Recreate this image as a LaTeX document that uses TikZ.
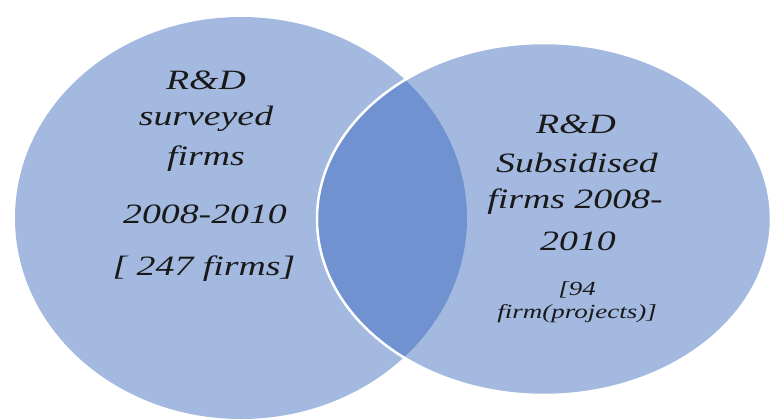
\documentclass[tikz,border=0pt]{standalone}
\usepackage{fontspec}
\newfontfamily\labfont{Liberation Serif}[FakeStretch=1.35]
\definecolor{lightblue}{RGB}{163,185,224}
\definecolor{darkblue}{RGB}{112,146,208}
\definecolor{textcol}{RGB}{25,25,25}
\begin{document}
\begin{tikzpicture}[x=1pt,y=-1pt,
  lab/.style={font=\labfont\itshape\fontsize{28}{34}\selectfont, text=textcol, anchor=base, inner sep=0pt},
  labsmall/.style={font=\labfont\itshape\fontsize{20}{24}\selectfont, text=textcol, anchor=base, inner sep=0pt}]
\useasboundingbox (0,0) rectangle (771,420);
\fill[white] (0,0) rectangle (771,420);
% left set
\fill[lightblue] (241,218) ellipse [x radius=226, y radius=201];
% right set
\fill[lightblue] (544,219) ellipse [x radius=227, y radius=176];
% intersection
\begin{scope}
  \clip (241,218) ellipse [x radius=226, y radius=201];
  \fill[darkblue] (544,219) ellipse [x radius=227, y radius=176];
\end{scope}
\draw[white, line width=2.5pt] (544,219) ellipse [x radius=227, y radius=176];
% left labels
\node[lab] (l1) at (206,89) {R\&D};
\node[lab] (l2) at (206,125) {surveyed};
\node[lab] (l3) at (206,165) {firms};
\node[lab] (l4) at (205,223) {2008-2010};
\node[lab] (l5) at (204,275) {[ 247 firms]};
% right labels
\node[lab] (r1) at (576,133) {R\&D};
\node[lab] (r2) at (577,172) {Subsidised};
\node[lab] (r3) at (575,208) {firms 2008-};
\node[lab] (r4) at (578,250) {2010};
\node[labsmall] (r5) at (577,295) {[94};
\node[labsmall] (r6) at (577,318) {firm(projects)]};
\end{tikzpicture}
\end{document}
